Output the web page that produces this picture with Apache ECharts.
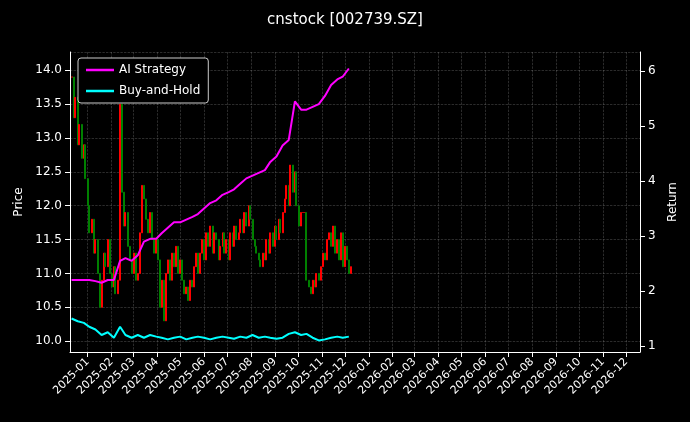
<!DOCTYPE html><html><head><meta charset="utf-8"><script src="https://cdn.jsdelivr.net/npm/echarts@6/dist/echarts.min.js"></script>
<style>html,body{margin:0;background:#000}#c{width:690px;height:422px}</style></head><body><div id="c"></div><script>
const startDate='2024-12-11';
const stepDays=2.61;
const closes=[13.9,13.3,13.6,12.9,13.2,12.7,12.9,
12.4,12.0,11.6,11.8,11.3,11.5,11.0,
10.5,10.9,11.3,11.1,11.5,11.0,10.8,11.1,10.7,10.9,
13.5,12.2,11.7,11.9,11.4,11.2,11.0,11.3,10.9,11.0,
11.6,12.3,12.1,11.8,11.6,11.9,11.5,11.3,11.5,11.2,
10.5,10.9,10.3,11.0,11.2,10.9,11.3,11.1,11.4,11.0,
11.2,10.9,10.7,10.8,10.6,10.9,10.8,11.1,11.3,11.0,
11.3,11.5,11.2,11.6,11.4,11.7,11.3,11.6,11.5,11.2,
11.4,11.6,11.3,11.5,11.2,11.6,11.4,11.7,11.5,11.6,
11.8,11.6,11.9,11.7,12.0,11.8,11.5,11.4,11.3,11.2,
11.1,11.3,11.2,11.5,11.3,11.6,11.4,11.7,11.5,11.8,
11.6,11.9,12.1,12.3,12.0,12.6,12.2,12.5,12.0,11.7,
11.9,11.9,11.9,10.9,10.8,10.7,10.9,10.8,11.0,10.9,
11.1,11.3,11.2,11.5,11.6,11.4,11.7,11.3,11.5,11.2,
11.6,11.1,11.4,11.2,11.0,11.1];
const lineStep=3;
const strategy=[2.2,2.2,2.2,2.2,2.18,2.15,2.2,2.2,2.55,2.6,2.55,2.65,2.9,2.95,2.95,3.05,3.15,3.25,3.25,3.3,3.35,3.4,3.5,3.6,3.65,3.75,3.8,3.85,3.95,4.05,4.1,4.15,4.2,4.35,4.45,4.65,4.75,5.45,5.3,5.3,5.35,5.4,5.55,5.75,5.85,5.9,6.05];
const buyHold=[1.5,1.45,1.42,1.35,1.3,1.2,1.25,1.15,1.35,1.2,1.15,1.2,1.15,1.2,1.17,1.15,1.12,1.15,1.17,1.12,1.15,1.17,1.15,1.12,1.15,1.17,1.15,1.13,1.17,1.15,1.2,1.15,1.17,1.15,1.13,1.15,1.22,1.25,1.2,1.22,1.15,1.1,1.12,1.15,1.17,1.15,1.17];
const DAY=86400000,t0=new Date(startDate).getTime();
const dates=closes.map((_,i)=>t0+Math.round(i*stepDays)*DAY);
const candles=closes.map((c,i)=>{const o=i?closes[i-1]:c;return [dates[i],o,c,Math.min(o,c),Math.max(o,c)];});
const sData=strategy.map((v,j)=>[dates[j*lineStep],v]);
const bData=buyHold.map((v,j)=>[dates[j*lineStep],v]);
const grid='rgba(160,160,160,0.45)';
const ch=echarts.init(document.getElementById('c'));
ch.setOption({backgroundColor:'#000',animation:false,
title:{text:'cnstock [002739.SZ]',left:'center',top:8,textStyle:{color:'#fff',fontSize:15,fontWeight:'normal',fontFamily:'DejaVu Sans'}},
legend:{left:78,top:58,orient:'vertical',icon:'rect',itemWidth:28,itemHeight:2.5,itemGap:9,backgroundColor:'#000',borderColor:'#ccc',borderWidth:1,borderRadius:3,padding:[6,8],
 textStyle:{color:'#fff',fontSize:12,fontFamily:'DejaVu Sans'},data:['AI Strategy','Buy-and-Hold']},
grid:{left:70,right:50,top:52,bottom:70},
xAxis:{type:'time',min:new Date('2024-12-09').getTime(),max:new Date('2026-12-19').getTime(),minInterval:28*DAY,maxInterval:31*DAY,
 axisLine:{lineStyle:{color:'#fff'}},axisTick:{lineStyle:{color:'#fff'}},
 axisLabel:{color:'#fff',rotate:45,fontSize:11,fontFamily:'DejaVu Sans',showMinLabel:false,showMaxLabel:false,formatter:v=>{const d=new Date(v);return d.getFullYear()+'-'+String(d.getMonth()+1).padStart(2,'0');}},
 splitLine:{show:true,lineStyle:{color:grid,type:'dashed',width:0.6}}},
yAxis:[{type:'value',min:9.84,max:14.27,splitNumber:9,name:'Price',nameLocation:'middle',nameGap:42,nameTextStyle:{color:'#fff',fontSize:12,fontFamily:'DejaVu Sans'},
 axisLine:{show:true,lineStyle:{color:'#fff'}},axisTick:{show:true},
 axisLabel:{color:'#fff',fontSize:12,fontFamily:'DejaVu Sans',showMinLabel:false,showMaxLabel:false,formatter:v=>v.toFixed(1)},
 splitLine:{lineStyle:{color:grid,type:'dashed',width:0.6}}},
 {type:'value',min:0.89,max:6.35,splitNumber:5,name:'Return',nameLocation:'middle',nameGap:24,nameTextStyle:{color:'#fff',fontSize:12,fontFamily:'DejaVu Sans'},
 axisLine:{show:true,lineStyle:{color:'#fff'}},axisTick:{show:true},
 axisLabel:{color:'#fff',fontSize:12,fontFamily:'DejaVu Sans',showMinLabel:false,showMaxLabel:false},splitLine:{show:false}}],
series:[{type:'candlestick',data:candles,barWidth:1.5,itemStyle:{color:'#ff0000',color0:'#008000',borderColor:'#ff0000',borderColor0:'#008000'}},
 {name:'AI Strategy',type:'line',yAxisIndex:1,data:sData,showSymbol:false,lineStyle:{color:'#ff00ff',width:2},itemStyle:{color:'#ff00ff'}},
 {name:'Buy-and-Hold',type:'line',yAxisIndex:1,data:bData,showSymbol:false,lineStyle:{color:'#00ffff',width:2},itemStyle:{color:'#00ffff'}}]
});
</script></body></html>
